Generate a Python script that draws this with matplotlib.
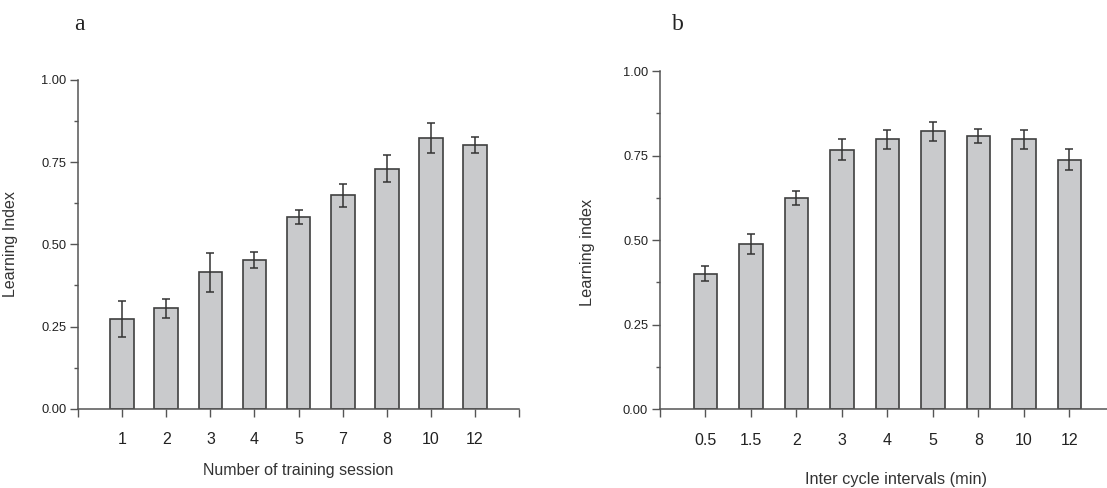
import matplotlib

matplotlib.use("Agg")

import matplotlib.pyplot as plt  # noqa: E402
from matplotlib.ticker import MultipleLocator  # noqa: E402

# panel a
sessions = ["1", "2", "3", "4", "5", "7", "8", "10", "12"]
sessions_mean = [0.274, 0.305, 0.415, 0.452, 0.582, 0.649, 0.730, 0.824, 0.803]
sessions_err = [0.055, 0.028, 0.060, 0.025, 0.021, 0.034, 0.041, 0.046, 0.024]

# panel b
intervals = ["0.5", "1.5", "2", "3", "4", "5", "8", "10", "12"]
intervals_mean = [0.401, 0.489, 0.625, 0.768, 0.799, 0.822, 0.808, 0.799, 0.738]
intervals_err = [0.023, 0.029, 0.021, 0.031, 0.028, 0.028, 0.021, 0.028, 0.031]

_BAR = "#c9cacc"
_EDGE = "#404040"
_AXIS = "#555555"

plt.rcParams["font.family"] = ["Liberation Sans", "DejaVu Sans"]


def draw_panel(ax, labels, means, errs, width):
    x = list(range(1, len(labels) + 1))
    ax.bar(x, means, width=width, color=_BAR, edgecolor=_EDGE, linewidth=1.2, zorder=2)
    ax.errorbar(x, means, yerr=errs, fmt="none", ecolor="#333333",
                elinewidth=1.1, capsize=3, capthick=1.1, zorder=3)
    ax.set_xlim(0, len(labels) + 1)
    ax.set_ylim(0, 1.0)
    ax.set_xticks(range(0, len(labels) + 2))
    ax.set_xticklabels([""] + labels + [""])
    ax.yaxis.set_major_locator(MultipleLocator(0.25))
    ax.yaxis.set_minor_locator(MultipleLocator(0.125))
    ax.yaxis.set_major_formatter(lambda v, p: f"{v:.2f}")
    ax.tick_params(axis="x", direction="out", length=6, width=1, color=_AXIS,
                   labelsize=11.5, pad=11, labelcolor="#222222")
    ax.tick_params(axis="y", which="major", direction="out", length=5.5, width=1,
                   color=_AXIS, labelsize=9.3, pad=3, labelcolor="#222222")
    ax.tick_params(axis="y", which="minor", direction="out", length=2.7, width=1,
                   color=_AXIS)
    for side in ("top", "right"):
        ax.spines[side].set_visible(False)
    for side in ("left", "bottom"):
        ax.spines[side].set_color(_AXIS)
        ax.spines[side].set_linewidth(1.1)


fig = plt.figure(figsize=(11.07, 4.88), dpi=100)

ax_a = fig.add_axes([0.0707, 0.1625, 0.398, 0.6736])
draw_panel(ax_a, sessions, sessions_mean, sessions_err, 0.54)
ax_a.set_ylabel("Learning Index", fontsize=11.5, color="#333333")
ax_a.yaxis.set_label_coords(-0.137, 0.5)
ax_a.set_xlabel("Number of training session", fontsize=11.5, color="#333333", va="center")
ax_a.xaxis.set_label_coords(0.5, -0.187)

ax_b = fig.add_axes([0.5962, 0.1613, 0.411, 0.693])
draw_panel(ax_b, intervals, intervals_mean, intervals_err, 0.51)
ax_b.set_ylabel("Learning index", fontsize=11.7, color="#333333")
ax_b.yaxis.set_label_coords(-0.143, 0.465)
ax_b.set_xlabel("Inter cycle intervals (min)", fontsize=11.7, color="#333333", va="center")
ax_b.xaxis.set_label_coords(0.5196, -0.209)

fig.text(79 / 1107, 1 - 25 / 488, "a", family="Liberation Serif", fontsize=17,
         ha="center", va="center", color="#222222")
fig.text(678 / 1107, 1 - 25 / 488, "b", family="Liberation Serif", fontsize=17,
         ha="center", va="center", color="#222222")

fig.savefig("out.png", dpi=100)
